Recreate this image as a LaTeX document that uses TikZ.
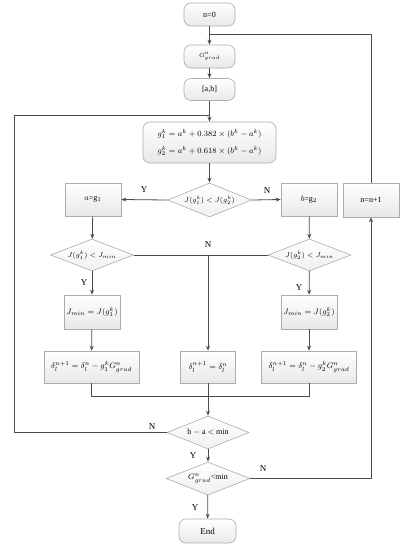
\documentclass[tikz,border=0pt]{standalone}
\usepackage{fontspec}
\setmainfont{Liberation Serif}
\usetikzlibrary{shapes.geometric,arrows.meta}
\begin{document}
\begin{tikzpicture}[x=1pt,y=-1pt,
  box/.style={draw=gray!65, line width=0.6pt, shading=axis, top color=white, bottom color=gray!18, inner sep=1pt, font=\fontsize{8}{9}\selectfont},
  rbox/.style={box, rounded corners=7pt},
  dia/.style={diamond, draw=gray!65, line width=0.6pt, shading=axis, top color=white, bottom color=gray!12, inner sep=0pt, aspect=2.5, font=\fontsize{7}{8}\selectfont},
  conn/.style={draw=black!70, line width=0.8pt},
  arr/.style={conn, -{Stealth[length=5pt,width=4pt]}},
  lab/.style={font=\fontsize{9}{10}\selectfont, inner sep=0pt}]
\useasboundingbox (0,0) rectangle (411,550);

\node[rbox, minimum width=51pt, minimum height=23pt] (n0) at (209.5,14.5) {n=0};
\node[rbox, minimum width=51pt, minimum height=23pt, font=\fontsize{6}{7}\selectfont] (grad) at (209.5,56.5) {$G_{grad}^{n}$};
\node[rbox, minimum width=51pt, minimum height=22pt] (ab) at (209.5,89.5) {[a,b]};
\node[rbox, minimum width=133pt, minimum height=41pt, align=center, font=\fontsize{8.5}{17}\selectfont] (form) at (209.5,142.5)
  {$g_1^k=a^k+0.382\times(b^k-a^k)$\\ $g_2^k=a^k+0.618\times(b^k-a^k)$};
\node[dia, minimum width=84pt, minimum height=34pt] (d1) at (209.5,200) {$J(g_1^k)<J(g_2^k)$};

\node[box, minimum width=56pt, minimum height=33pt] (ag) at (93,199.5) {$a$=g$_1$};
\node[box, minimum width=56pt, minimum height=33pt] (bg) at (309,199.5) {$b$=g$_2$};
\node[box, minimum width=56pt, minimum height=34pt] (nn) at (371,200) {n=n+1};

\node[dia, minimum width=83pt, minimum height=32pt] (d2) at (92,255) {$J(g_1^k)<J_{min}$};
\node[dia, minimum width=83pt, minimum height=32pt] (d3) at (309.5,255) {$J(g_2^k)<J_{min}$};

\node[box, minimum width=56pt, minimum height=34pt] (jl) at (92,312) {$J_{min}=J(g_1^k)$};
\node[box, minimum width=56pt, minimum height=34pt] (jr) at (309,312) {$J_{min}=J(g_2^k)$};

\node[box, minimum width=95pt, minimum height=32pt] (dl) at (91.5,367) {$\delta_l^{n+1}=\delta_l^{n}-g_1^kG_{grad}^{n}$};
\node[box, minimum width=55pt, minimum height=32pt] (dm) at (208,367) {$\delta_l^{n+1}=\delta_l^{n}$};
\node[box, minimum width=95pt, minimum height=32pt] (dr) at (309,367) {$\delta_l^{n+1}=\delta_l^{n}-g_2^kG_{grad}^{n}$};

\node[dia, minimum width=82pt, minimum height=33pt, font=\fontsize{8}{9}\selectfont] (d4) at (208,432.5) {b $-$ a $<$ min};
\node[dia, minimum width=84pt, minimum height=33pt, font=\fontsize{8}{9}\selectfont] (d5) at (208,478.5) {$G_{grad}^{n}$<min};
\node[rbox, minimum width=57pt, minimum height=24pt, font=\fontsize{9}{10}\selectfont] (end) at (207.5,531) {End};

\coordinate (tj) at (209.5,34);
\coordinate (lj) at (209.5,115);
\coordinate (lx) at (14,115);
\coordinate (jn) at (208,255);
\coordinate (mg) at (208,396);

% trunk
\draw[arr] (n0) -- (grad);
\draw[arr] (grad) -- (ab);
\draw[arr] (ab) -- (form);
\draw[arr] (form) -- (d1);
\draw[arr] (d1.west) -- (ag.east);
\draw[arr] (d1.east) -- (bg.west);
\draw[arr] (ag) -- (d2);
\draw[arr] (bg) -- (d3);
\draw[arr] (d2) -- (jl);
\draw[arr] (d3) -- (jr);
\draw[arr] (jl) -- (dl);
\draw[arr] (jr) -- (dr);
\draw[conn] (d2.east) -- (d3.west);
\draw[arr] (jn) -- (dm.north);
\draw[conn] (dl.south) |- (mg);
\draw[conn] (dr.south) |- (mg);
\draw[arr] (dm) -- (d4);
\draw[conn] (d4.west) -| (lx) -- (lj);
\draw[arr] (d4) -- (d5);
\draw[arr] (d5.east) -| (nn.south);
\draw[conn] (nn.north) |- (tj);
\draw[arr] (d5) -- (end);

% labels
\node[lab] (ly1) at (144,190) {Y};
\node[lab] (ln1) at (267,191) {N};
\node[lab] (ly2) at (84,283) {Y};
\node[lab] (ly3) at (299,288) {Y};
\node[lab] (lnm) at (208,245) {N};
\node[lab] (ln4) at (152,427) {N};
\node[lab] (ly4) at (193,456) {Y};
\node[lab] (ln5) at (263,469) {N};
\node[lab] (ly5) at (195,508) {Y};
\end{tikzpicture}
\end{document}
